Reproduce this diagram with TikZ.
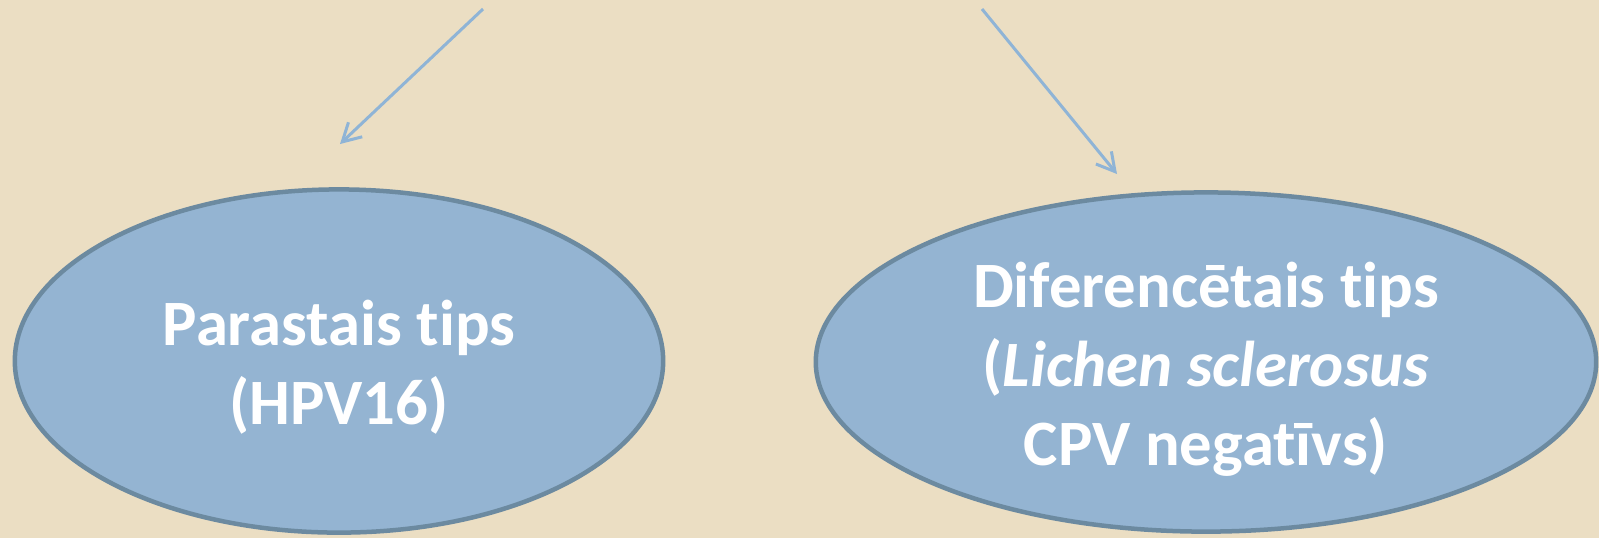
\documentclass[tikz,border=0pt]{standalone}
\usepackage{fontspec}
\setmainfont{Carlito}[Ligatures=NoCommon]
\usepackage{xcolor}
\usepackage{tikz}
\usetikzlibrary{arrows.meta,positioning,shapes.geometric}

\definecolor{paper}{RGB}{235,222,195}
\definecolor{oval}{RGB}{148,180,210}
\definecolor{ovalline}{RGB}{108,138,160}
\definecolor{arrblue}{RGB}{143,180,214}

\begin{document}
\begin{tikzpicture}[x=0.01cm, y=-0.01cm,
  ov/.style={ellipse, draw=ovalline, fill=oval, line width=0.045cm, inner sep=0pt},
  txt/.style={text=white, align=center, inner sep=0pt,
    font=\fontsize{18.4}{22.4}\selectfont\bfseries},
  arr/.style={-{Straight Barb[length=0.18cm, width=0.2cm]}, draw=arrblue, line width=0.03cm}
]
\fill[paper] (0,0) rectangle (1599,538);
\useasboundingbox (0,0) rectangle (1599,538);

\node[ov, minimum width=6.48cm, minimum height=3.43cm] (usual) at (339,361) {};
\node[ov, minimum width=7.80cm, minimum height=3.39cm] (diff) at (1206,362) {};

\node[txt] (usualtxt) at ([yshift=-0.06cm]usual.center) {Parastais tips\\(HPV16)};
\node[txt] (difftxt) at ([yshift=-0.07cm]diff.center)
  {Diferencētais tips\\(\textit{Lichen sclerosus}\\CPV negatīvs)};

% incoming arrows from above
\coordinate (srcL) at (483,9);
\coordinate (tipL) at (340,144);
\coordinate (srcR) at (982,9);
\coordinate (tipR) at (1117,174);
\draw[arr] (srcL) -- (tipL);
\draw[arr] (srcR) -- (tipR);
\end{tikzpicture}
\end{document}
